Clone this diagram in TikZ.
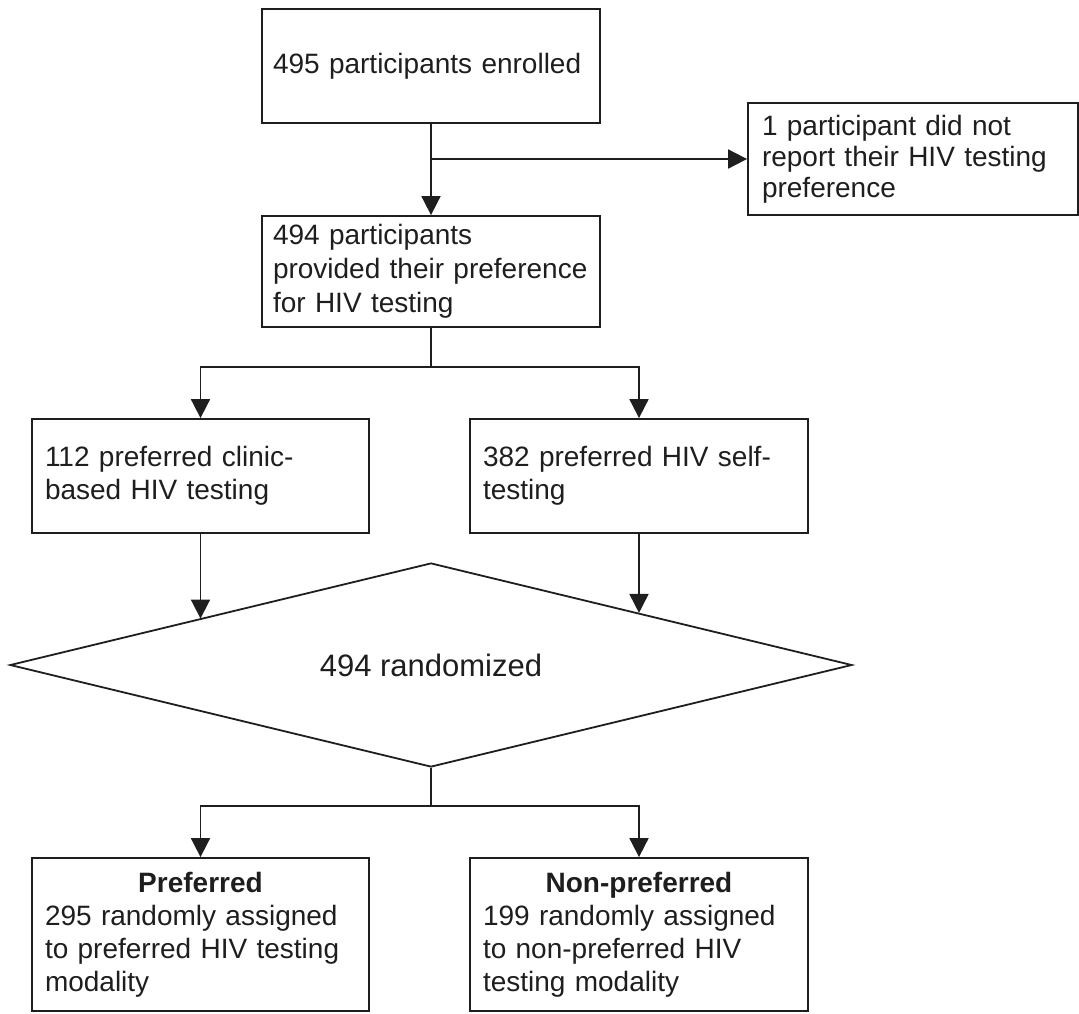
\documentclass[tikz,border=0pt]{standalone}
\usepackage{fontspec}
\setmainfont{Liberation Sans}
\usetikzlibrary{arrows.meta,calc,shapes.geometric}
\definecolor{ink}{HTML}{1E1E1E}
\begin{document}
\begin{tikzpicture}[x=1pt,y=-1pt,
  box/.style={draw=ink, line width=1.8pt, inner ysep=0pt, align=left,
    font=\fontsize{28}{33}\selectfont, text=ink},
  arr/.style={draw=ink, line width=1.8pt, -{Triangle[length=19pt,width=19pt]}},
  ln/.style={draw=ink, line width=1.8pt}]
\useasboundingbox (0,0) rectangle (1079,1013);

\node[box, inner xsep=11pt, minimum width=338pt, minimum height=114pt, text width=316pt] (b1) at (431,66) {495 participants enrolled};
\node[box, inner xsep=14pt, minimum width=330pt, minimum height=112pt, text width=302pt, font=\fontsize{28}{31}\selectfont] (r) at (913,159) {1 participant did not\\report their HIV testing\\preference};
\node[box, inner xsep=11pt, minimum width=338pt, minimum height=111pt, text width=316pt, font=\fontsize{28}{34}\selectfont] (b2) at (431,271.5) {494 participants\\provided their preference\\for HIV testing};
\node[box, inner xsep=13pt, minimum width=337pt, minimum height=114pt, text width=311pt] (b3) at (200.5,476) {112 preferred clinic-\\based HIV testing};
\node[box, inner xsep=13pt, minimum width=338pt, minimum height=114pt, text width=312pt] (b4) at (639,476) {382 preferred HIV self-\\testing};
\node[diamond, draw=ink, line width=1.8pt, inner sep=0pt, shape aspect=4.127, minimum width=842pt, minimum height=204pt, text=ink, font=\fontsize{31}{36}\selectfont] (dia) at (431,665) {494 randomized};
\node[box, inner xsep=13pt, minimum width=337pt, minimum height=153pt, text width=311pt] (b5) at (200.5,934.5) {\makebox[311pt]{\bfseries Preferred}\\295 randomly assigned\\to preferred HIV testing\\modality};
\node[box, inner xsep=13pt, minimum width=338pt, minimum height=153pt, text width=312pt] (b6) at (639,934.5) {\makebox[312pt]{\bfseries Non-preferred}\\199 randomly assigned\\to non-preferred HIV\\testing modality};

\draw[arr] (b1.south) -- (b2.north);
\draw[arr] (b1.south |- r.west) -- (r.west);

\draw[ln] (b2.south) -- ++(0,39) coordinate (j1);
\draw[arr] (j1) -| (b3.north);
\draw[arr] (j1) -| (b4.north);

\coordinate (dl) at ($(dia.west)!0.4513!(dia.north)$);
\coordinate (dr) at ($(dia.east)!0.506!(dia.north)$);
\draw[arr] (b3.south) -- (b3.south |- dl);
\draw[arr] (b4.south) -- (b4.south |- dr);

\draw[ln] (dia.south) -- ++(0,38) coordinate (j2);
\draw[arr] (j2) -| (b5.north);
\draw[arr] (j2) -| (b6.north);
\end{tikzpicture}
\end{document}
